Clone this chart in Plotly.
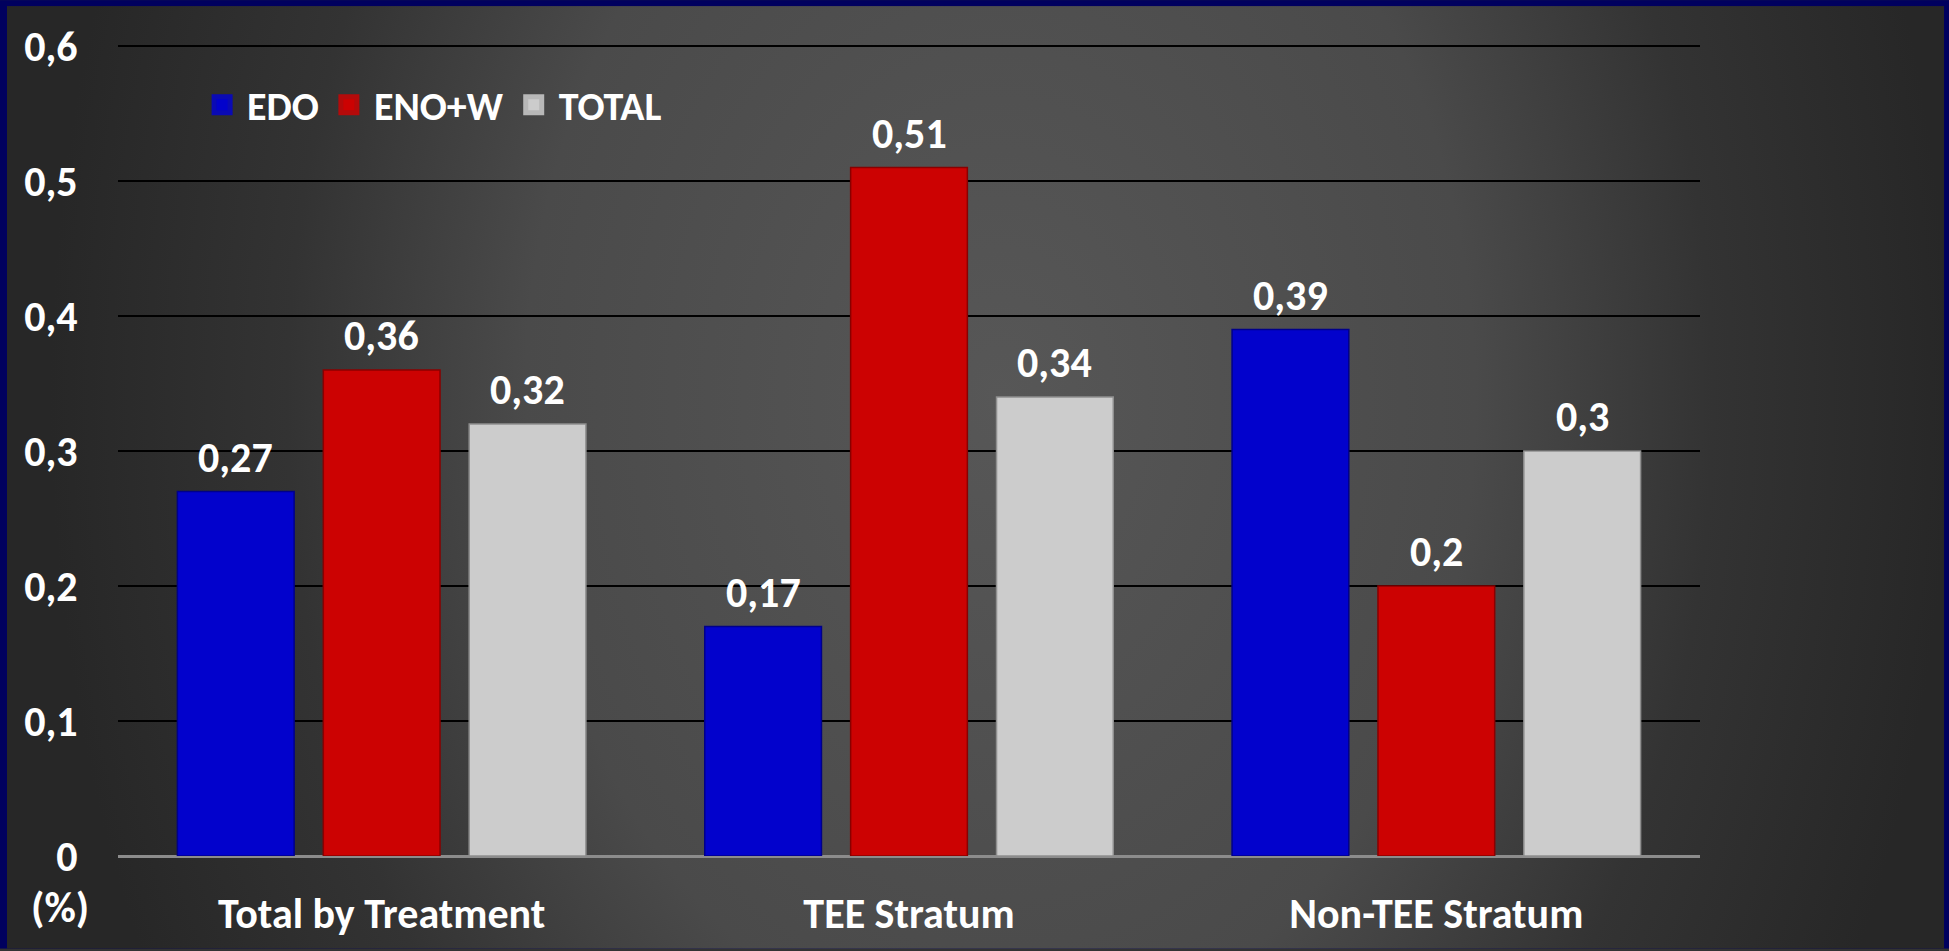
import base64
import plotly.graph_objects as go

# ---- data -------------------------------------------------------------
categories = ["Total by Treatment", "TEE Stratum", "Non-TEE Stratum"]
series_names = ["EDO", "ENO+W", "TOTAL"]
edo = [0.27, 0.17, 0.39]
eno_w = [0.36, 0.51, 0.20]
total = [0.32, 0.34, 0.30]
y_ticks = [0, 0.1, 0.2, 0.3, 0.4, 0.5, 0.6]

# ---- styling ----------------------------------------------------------
W, H = 1949, 951
M_L, M_R, M_T, M_B = 118, 249, 44, 93
BAR_GAP = 0.17
GROUP_GAP = 0.2
colors = ["#0202CC", "#CC0202", "#CCCCCC"]
edge_colors = ["#00008A", "#8A0000", "#8F8F8F"]
swatch_edges = ["#0A0AB4", "#B40A0A", "#B8B8B8"]
FONT = "Carlito, Calibri, Lato, sans-serif"
WHITE = "#FFFFFF"


def bold(size):
    return dict(family=FONT, size=size, color=WHITE, weight="bold")


series = [edo, eno_w, total]
x_pos = list(range(len(categories)))

# slide background: navy frame with a soft grey radial gradient
svg = f"""<svg xmlns='http://www.w3.org/2000/svg' width='{W}' height='{H}' viewBox='0 0 {W} {H}'>
<defs><radialGradient id='g' gradientUnits='userSpaceOnUse' cx='0' cy='0' r='1'
 gradientTransform='translate(1000 400) scale(950 1300)'>
<stop offset='0' stop-color='#575757'/><stop offset='0.5' stop-color='#4a4a4a'/>
<stop offset='0.75' stop-color='#333333'/><stop offset='1' stop-color='#272727'/>
</radialGradient></defs>
<rect x='0' y='0' width='{W}' height='{H}' fill='#00005E'/>
<rect x='7' y='6' width='{W - 12}' height='{H - 6}' fill='url(#g)'/>
</svg>"""
bg_uri = "data:image/svg+xml;base64," + base64.b64encode(svg.encode()).decode()

plot_w = W - M_L - M_R
plot_h = H - M_T - M_B

fig = go.Figure()

for name, vals, col, edge in zip(series_names, series, colors, edge_colors):
    fig.add_trace(go.Bar(
        x=x_pos, y=vals, name=name,
        marker=dict(color=col, line=dict(color=edge, width=1.5)),
        showlegend=False,
        hoverinfo="skip",
    ))

# legend swatches
for name, col, edge in zip(series_names, colors, swatch_edges):
    fig.add_trace(go.Scatter(
        x=[None], y=[None], mode="markers", name=name,
        marker=dict(symbol="square", size=16, color=col, line=dict(color=edge, width=5)),
    ))

# value labels above each bar
slot = (1 - BAR_GAP) / len(series)
annotations = []
for j, vals in enumerate(series):
    offset = (j - (len(series) - 1) / 2) * slot
    for i, v in enumerate(vals):
        annotations.append(dict(
            x=x_pos[i] + offset, y=v, xref="x", yref="y",
            text=f"{v:g}".replace(".", ","), showarrow=False,
            yanchor="bottom", yshift=7,
            font=bold(42),
        ))

# unit label under the y axis
annotations.append(dict(
    x=(60 - M_L) / plot_w, y=-(910 - (H - M_B)) / plot_h,
    xref="paper", yref="paper", text="(%)", showarrow=False,
    xanchor="center", yanchor="middle",
    font=bold(43),
))

fig.update_layout(
    width=W, height=H,
    margin=dict(l=M_L, r=M_R, t=M_T, b=M_B, pad=0),
    paper_bgcolor="#333333",
    plot_bgcolor="rgba(0,0,0,0)",
    separators=", ",
    barmode="group",
    bargap=BAR_GAP,
    bargroupgap=GROUP_GAP,
    font=dict(family=FONT, color=WHITE),
    images=[dict(
        source=bg_uri, xref="paper", yref="paper",
        x=-M_L / plot_w, y=1 + M_T / plot_h,
        sizex=W / plot_w, sizey=H / plot_h,
        xanchor="left", yanchor="top", sizing="stretch", layer="below",
    )],
    legend=dict(
        orientation="h", x=0.05, y=(H - M_B - 105) / plot_h,
        xanchor="left", yanchor="middle",
        bgcolor="rgba(0,0,0,0)",
        font=bold(40),
        itemwidth=40,
        itemclick=False, itemdoubleclick=False,
    ),
    annotations=annotations,
    xaxis=dict(
        range=[-0.5, 2.5],
        tickvals=x_pos, ticktext=categories,
        tickfont=bold(42),
        ticks="outside", ticklen=21, tickcolor="rgba(0,0,0,0)",
        showgrid=False, zeroline=False, showline=False,
        fixedrange=True,
    ),
    yaxis=dict(
        range=[0, 0.6015],
        tickvals=y_ticks,
        tickformat="~g",
        tickfont=bold(42),
        ticks="outside", ticklen=31, tickcolor="rgba(0,0,0,0)",
        showgrid=True, gridcolor="#000000", gridwidth=2,
        zeroline=True, zerolinecolor="#8C8C8C", zerolinewidth=3,
        showline=False,
        fixedrange=True,
    ),
)

fig.write_html("out.html", config={"displayModeBar": False})
